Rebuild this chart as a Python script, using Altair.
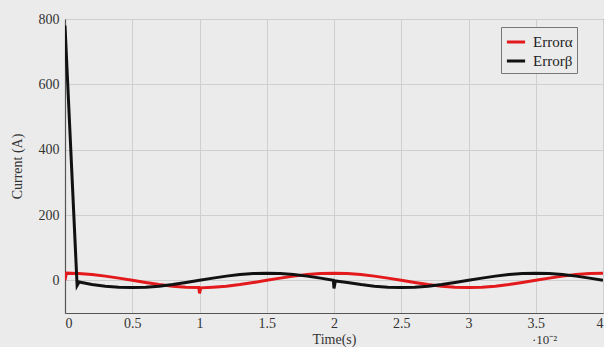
import altair as alt
import pandas as pd

# time in seconds
t_alpha = [0.0, 0.0001, 0.001, 0.002, 0.003, 0.004, 0.005, 0.006, 0.007, 0.008, 0.009,
           0.00995, 0.01, 0.0101, 0.011, 0.012, 0.013, 0.014, 0.015, 0.016, 0.017, 0.018, 0.019,
           0.020, 0.021, 0.022, 0.023, 0.024, 0.025, 0.026, 0.027, 0.028, 0.029,
           0.030, 0.031, 0.032, 0.033, 0.034, 0.035, 0.036, 0.037, 0.038, 0.039, 0.040]
err_alpha = [0, 22, 20.9, 17.8, 12.9, 6.8, 0, -6.8, -12.9, -17.8, -20.9,
             -22, -40, -23, -20.9, -17.8, -12.9, -6.8, 0, 6.8, 12.9, 17.8, 20.9,
             22, 20.9, 17.8, 12.9, 6.8, 0, -6.8, -12.9, -17.8, -20.9,
             -22, -20.9, -17.8, -12.9, -6.8, 0, 6.8, 12.9, 17.8, 20.9, 22]

t_beta = [0.0, 0.0009, 0.00105, 0.002, 0.003, 0.004, 0.005, 0.006, 0.007, 0.008, 0.009,
          0.010, 0.011, 0.012, 0.013, 0.014, 0.015, 0.016, 0.017, 0.018, 0.019,
          0.01995, 0.020, 0.0201, 0.021, 0.022, 0.023, 0.024, 0.025, 0.026, 0.027, 0.028, 0.029,
          0.030, 0.031, 0.032, 0.033, 0.034, 0.035, 0.036, 0.037, 0.038, 0.039, 0.040]
err_beta = [780, -16, -5, -12.9, -17.8, -20.9, -22, -20.9, -17.8, -12.9, -6.8,
            0, 6.8, 12.9, 17.8, 20.9, 22, 20.9, 17.8, 12.9, 6.8,
            0, -25, -2, -6.8, -12.9, -17.8, -20.9, -22, -20.9, -17.8, -12.9, -6.8,
            0, 6.8, 12.9, 17.8, 20.9, 22, 20.9, 17.8, 12.9, 6.8, 0]

series_names = ["Errorα", "Errorβ"]
series_colors = ["#e3191c", "#111111"]

df = pd.concat([
    pd.DataFrame({"t": t_alpha, "v": err_alpha, "s": series_names[0], "o": range(len(t_alpha))}),
    pd.DataFrame({"t": t_beta, "v": err_beta, "s": series_names[1], "o": range(len(t_beta))}),
])

FONT = "Liberation Serif"

lines = alt.Chart(df).mark_line(strokeWidth=3, clip=True).encode(
    x=alt.X("t:Q", scale=alt.Scale(domain=[0, 0.04], nice=False),
            axis=alt.Axis(values=[0, 0.005, 0.01, 0.015, 0.02, 0.025, 0.03, 0.035, 0.04],
                          labelExpr="format(datum.value*100, '~g')",
                          title="Time(s)", titleFontWeight="normal", titlePadding=2,
                          grid=True, ticks=False, labelPadding=3)),
    y=alt.Y("v:Q", scale=alt.Scale(domain=[-100, 800], nice=False, zero=False),
            axis=alt.Axis(values=[0, 200, 400, 600, 800], title="Current (A)",
                          titleFontWeight="normal", titlePadding=14,
                          grid=True, ticks=False, labelPadding=6)),
    color=alt.Color("s:N", scale=alt.Scale(domain=series_names, range=series_colors),
                    legend=alt.Legend(title=None, orient="none", legendX=436, legendY=8,
                                      symbolType="stroke", symbolStrokeWidth=3, symbolSize=330,
                                      labelFont=FONT, labelFontSize=15, padding=4,
                                      strokeColor="#777777", fillColor="#ebebeb",
                                      rowPadding=0, labelColor="#222", labelOffset=6)),
    order="o:Q",
)

exponent = alt.Chart(pd.DataFrame({"a": [0]})).mark_text(
    text="·10⁻²", font=FONT, fontSize=13, color="#333", align="left", baseline="middle"
).encode(x=alt.value(467), y=alt.value(321))

chart = alt.layer(lines, exponent).properties(
    width=538, height=294,
    padding={"left": 65, "top": 19, "right": 1, "bottom": 34},
    autosize=alt.AutoSizeParams(type="none"),
    background="#ebebeb",
).configure_view(
    stroke="#666666", strokeWidth=1, fill="#ebebeb"
).configure_axis(
    labelFont=FONT, titleFont=FONT, labelFontSize=14, titleFontSize=14,
    labelColor="#333", titleColor="#333", gridColor="#cfcfcf", gridWidth=1,
    domainColor="#555", domainWidth=1.2,
)

chart.save("out.html", embed_options={"renderer": "svg", "actions": False})
